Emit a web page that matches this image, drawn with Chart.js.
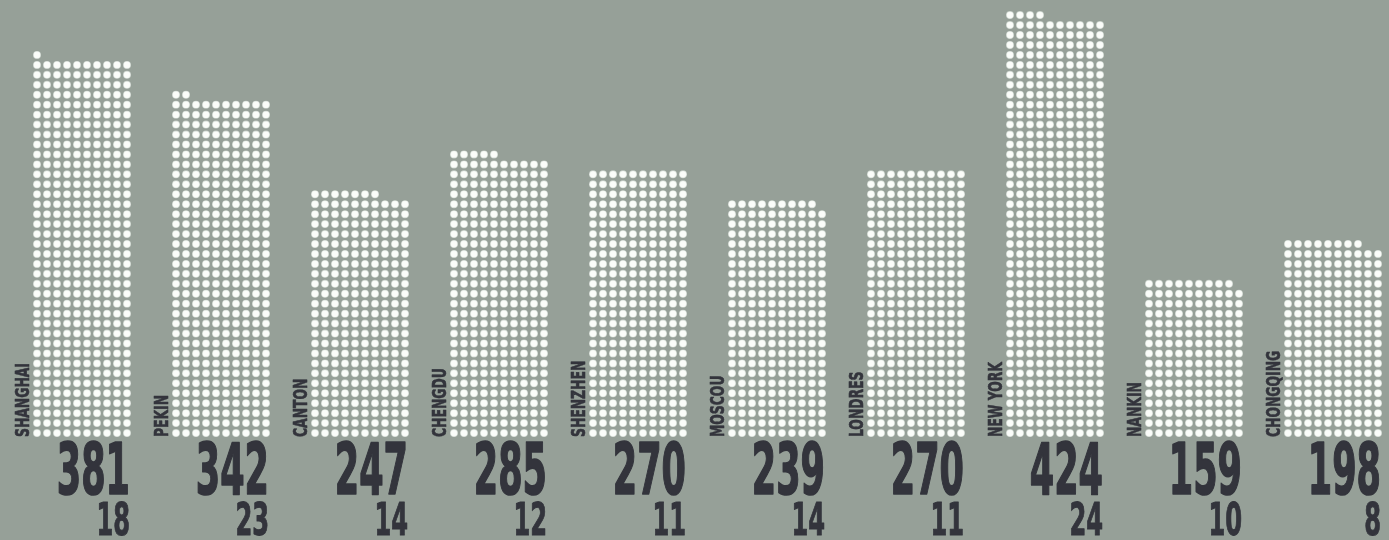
<!DOCTYPE html>
<html>
<head>
<meta charset="utf-8">
<script src="https://cdn.jsdelivr.net/npm/chart.js@4/dist/chart.umd.min.js"></script>
<style>
  html, body { margin: 0; padding: 0; background: #96a098; }
  #wrap { width: 1389px; height: 540px; }
</style>
</head>
<body>
<div id="wrap"><canvas id="c" width="1389" height="540"></canvas></div>
<script>
// ---- data ----
const cities = ['SHANGHAI', 'PEKIN', 'CANTON', 'CHENGDU', 'SHENZHEN', 'MOSCOU', 'LONDRES', 'NEW YORK', 'NANKIN', 'CHONGQING'];
const values = [381, 342, 247, 285, 270, 239, 270, 424, 159, 198];
const secondary = [18, 23, 14, 12, 11, 14, 11, 24, 10, 8];

// ---- layout constants ----
const PER_ROW = 10;
const GROUP = 13.9;
const TEXT = '#33343c';
const FONT = '"Liberation Sans Narrow", "DejaVu Sans Condensed", "DejaVu Sans", sans-serif';

const points = [];
values.forEach((v, k) => {
  for (let i = 0; i < v; i++) {
    points.push({ x: k * GROUP + (i % PER_ROW), y: Math.floor(i / PER_ROW) });
  }
});

function drawText(ctx, txt, font, stroke) {
  ctx.font = font;
  ctx.fillText(txt, 0, 0);
  if (stroke > 0) {
    ctx.lineWidth = stroke;
    ctx.lineJoin = 'round';
    ctx.strokeText(txt, 0, 0);
  }
}

const labelsPlugin = {
  id: 'labelsPlugin',
  afterDatasetsDraw(chart) {
    const ctx = chart.ctx;
    const xs = chart.scales.x, ys = chart.scales.y;
    const bottom = ys.getPixelForValue(0);
    ctx.save();
    ctx.fillStyle = TEXT;
    ctx.strokeStyle = TEXT;

    const nameFont = 'bold 20px ' + FONT;
    const bigFont = 'bold 72px ' + FONT;
    const smallFont = 'bold 44px ' + FONT;
    ctx.font = nameFont;
    const nameSx = 74 / ctx.measureText('SHANGHAI').width;
    ctx.font = bigFont;
    const bigSx = 24.4 / ctx.measureText('0').width;
    ctx.font = smallFont;
    const smallSx = 16.8 / ctx.measureText('0').width;

    cities.forEach((name, k) => {
      const xl = xs.getPixelForValue(k * GROUP);
      const xr = xs.getPixelForValue(k * GROUP + PER_ROW - 1) + 3;

      // rotated name
      ctx.save();
      ctx.translate(xl - 14, bottom + 4);
      ctx.rotate(-Math.PI / 2);
      ctx.scale(nameSx, 1);
      ctx.textAlign = 'left';
      ctx.textBaseline = 'middle';
      ctx.translate(0, 1);
      drawText(ctx, name, nameFont, 0.6);
      ctx.restore();

      // big value
      ctx.save();
      ctx.translate(xr, bottom + 61);
      ctx.scale(bigSx, 1);
      ctx.textAlign = 'right';
      ctx.textBaseline = 'alphabetic';
      drawText(ctx, String(values[k]), bigFont, 1.6);
      ctx.restore();

      // small value
      ctx.save();
      ctx.translate(xr, bottom + 102);
      ctx.scale(smallSx, 1);
      ctx.textAlign = 'right';
      ctx.textBaseline = 'alphabetic';
      drawText(ctx, String(secondary[k]), smallFont, 1);
      ctx.restore();
    });
    ctx.restore();
  }
};

new Chart(document.getElementById('c'), {
  type: 'scatter',
  data: {
    datasets: [{
      data: points,
      pointRadius: 3.4,
      pointHoverRadius: 3.4,
      pointBackgroundColor: '#fbfdfa',
      pointBorderColor: 'rgba(240,246,240,0.55)',
      pointBorderWidth: 1.2
    }]
  },
  options: {
    responsive: false,
    animation: false,
    devicePixelRatio: 1,
    layout: { padding: 0, autoPadding: false },
    plugins: { legend: { display: false }, tooltip: { enabled: false } },
    scales: {
      x: { type: 'linear', display: false, min: -3.7, max: 135.2 },
      y: { type: 'linear', display: false, min: -10.75, max: 43.52 }
    }
  },
  plugins: [labelsPlugin]
});
</script>
</body>
</html>
